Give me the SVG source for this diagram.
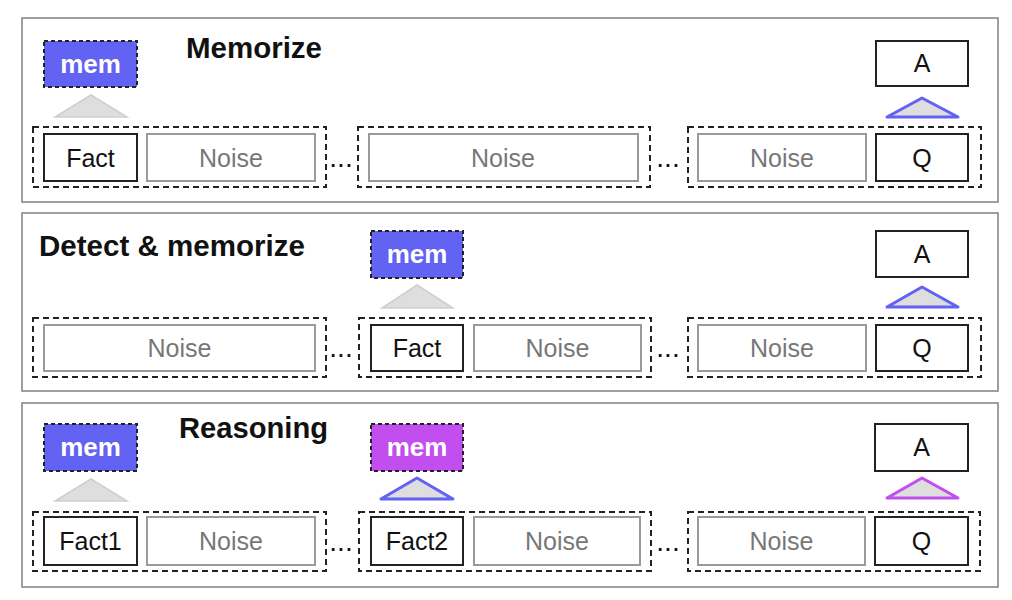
<svg xmlns="http://www.w3.org/2000/svg" width="1012" height="600" viewBox="0 0 1012 600">
<style>
.panel{fill:#fff;stroke:#808080;stroke-width:1.5}
.grp{fill:none;stroke:#222;stroke-width:2;stroke-dasharray:6 4}
.fact{fill:#fff;stroke:#222;stroke-width:2}
.noise{fill:#fff;stroke:#9a9a9a;stroke-width:2}
.memb{fill:#6262f3;stroke:#222;stroke-width:2;stroke-dasharray:4 3}
.memp{fill:#c24ef0;stroke:#222;stroke-width:2;stroke-dasharray:4 3}
.t{font-family:"Liberation Sans",Arial,sans-serif;font-size:25px;text-anchor:middle;fill:#111}
.tn{font-family:"Liberation Sans",Arial,sans-serif;font-size:25px;text-anchor:middle;fill:#777}
.tm{font-family:"Liberation Sans",Arial,sans-serif;font-size:26px;font-weight:bold;text-anchor:middle;fill:#fff}
.title{font-family:"Liberation Sans",Arial,sans-serif;font-size:29px;font-weight:bold;fill:#111}
.dots{font-family:"Liberation Sans",Arial,sans-serif;font-size:28px;text-anchor:middle;fill:#111}
.tg{fill:#dedede;stroke:#cfcfcf;stroke-width:1.5}
.tb{fill:#dedede;stroke:#6262f3;stroke-width:3;stroke-linejoin:round}
.tp{fill:#dedede;stroke:#c24ef0;stroke-width:3;stroke-linejoin:round}
</style>

<g id="panel1">
<rect class="panel" x="22" y="18" width="976" height="184"/>
<text class="title" x="186" y="58" textLength="136" lengthAdjust="spacingAndGlyphs">Memorize</text>
<g id="p1-mem"><rect class="memb" x="44" y="41" width="93" height="46"/><text class="tm" x="90.5" y="73">mem</text></g>
<g id="p1-A"><rect class="fact" x="876" y="41" width="92" height="45"/><text class="t" x="922" y="72">A</text></g>
<g id="p1-g1"><rect class="grp" x="33" y="127" width="293" height="60"/>
<rect class="fact" x="44" y="134" width="93" height="47"/><text class="t" x="90.5" y="167">Fact</text>
<rect class="noise" x="147" y="134" width="168" height="47"/><text class="tn" x="231" y="167">Noise</text></g>
<text class="dots" x="341" y="167">...</text>
<g id="p1-g2"><rect class="grp" x="358" y="127" width="292" height="60"/>
<rect class="noise" x="369" y="134" width="269" height="47"/><text class="tn" x="503" y="167">Noise</text></g>
<text class="dots" x="668" y="167">...</text>
<g id="p1-g3"><rect class="grp" x="688" y="127" width="293" height="60"/>
<rect class="noise" x="698" y="134" width="168" height="47"/><text class="tn" x="782" y="167">Noise</text>
<rect class="fact" x="876" y="134" width="92" height="47"/><text class="t" x="922" y="167">Q</text></g>
</g>

<g id="panel2">
<rect class="panel" x="22" y="213" width="976" height="178"/>
<text class="title" x="39" y="256" textLength="266" lengthAdjust="spacingAndGlyphs">Detect &amp; memorize</text>
<g id="p2-mem"><rect class="memb" x="371" y="231" width="92" height="47"/><text class="tm" x="417" y="263">mem</text></g>
<g id="p2-A"><rect class="fact" x="876" y="231" width="92" height="46"/><text class="t" x="922" y="263">A</text></g>
<g id="p2-g1"><rect class="grp" x="33" y="318" width="293" height="59"/>
<rect class="noise" x="44" y="325" width="271" height="46"/><text class="tn" x="179.5" y="357">Noise</text></g>
<text class="dots" x="341" y="357">...</text>
<g id="p2-g2"><rect class="grp" x="359" y="318" width="292" height="59"/>
<rect class="fact" x="371" y="325" width="92" height="46"/><text class="t" x="417" y="357">Fact</text>
<rect class="noise" x="474" y="325" width="167" height="46"/><text class="tn" x="557.5" y="357">Noise</text></g>
<text class="dots" x="668" y="357">...</text>
<g id="p2-g3"><rect class="grp" x="688" y="318" width="293" height="59"/>
<rect class="noise" x="698" y="325" width="168" height="46"/><text class="tn" x="782" y="357">Noise</text>
<rect class="fact" x="876" y="325" width="92" height="46"/><text class="t" x="922" y="357">Q</text></g>
</g>

<g id="panel3">
<rect class="panel" x="22" y="403" width="976" height="184"/>
<text class="title" x="179" y="438" textLength="149" lengthAdjust="spacingAndGlyphs">Reasoning</text>
<g id="p3-mem1"><rect class="memb" x="44" y="424" width="93" height="47"/><text class="tm" x="90.5" y="456">mem</text></g>
<g id="p3-mem2"><rect class="memp" x="371" y="424" width="92" height="47"/><text class="tm" x="417" y="456">mem</text></g>
<g id="p3-A"><rect class="fact" x="875" y="424" width="93" height="47"/><text class="t" x="921.5" y="456">A</text></g>
<g id="p3-g1"><rect class="grp" x="33" y="512" width="293" height="59"/>
<rect class="fact" x="44" y="517" width="93" height="48"/><text class="t" x="90.5" y="550">Fact1</text>
<rect class="noise" x="147" y="517" width="168" height="48"/><text class="tn" x="231" y="550">Noise</text></g>
<text class="dots" x="341" y="551">...</text>
<g id="p3-g2"><rect class="grp" x="359" y="512" width="292" height="59"/>
<rect class="fact" x="371" y="517" width="92" height="48"/><text class="t" x="417" y="550">Fact2</text>
<rect class="noise" x="474" y="517" width="166" height="48"/><text class="tn" x="557" y="550">Noise</text></g>
<text class="dots" x="668" y="551">...</text>
<g id="p3-g3"><rect class="grp" x="688" y="512" width="292" height="59"/>
<rect class="noise" x="698" y="517" width="167" height="48"/><text class="tn" x="781.5" y="550">Noise</text>
<rect class="fact" x="875" y="517" width="93" height="48"/><text class="t" x="921.5" y="550">Q</text></g>
</g>

<g id="connectors">
<polygon class="tg" points="91,95 127,117 55,117"/>
<polygon class="tb" points="922,98 958,117 887,117"/>
<polygon class="tg" points="417,285 453,308 382,308"/>
<polygon class="tb" points="922,287 958,307 887,307"/>
<polygon class="tg" points="91,479 127,501 55,501"/>
<polygon class="tb" points="417,478 453,499 381,499"/>
<polygon class="tp" points="922,478 958,498 887,498"/>
</g>
</svg>
